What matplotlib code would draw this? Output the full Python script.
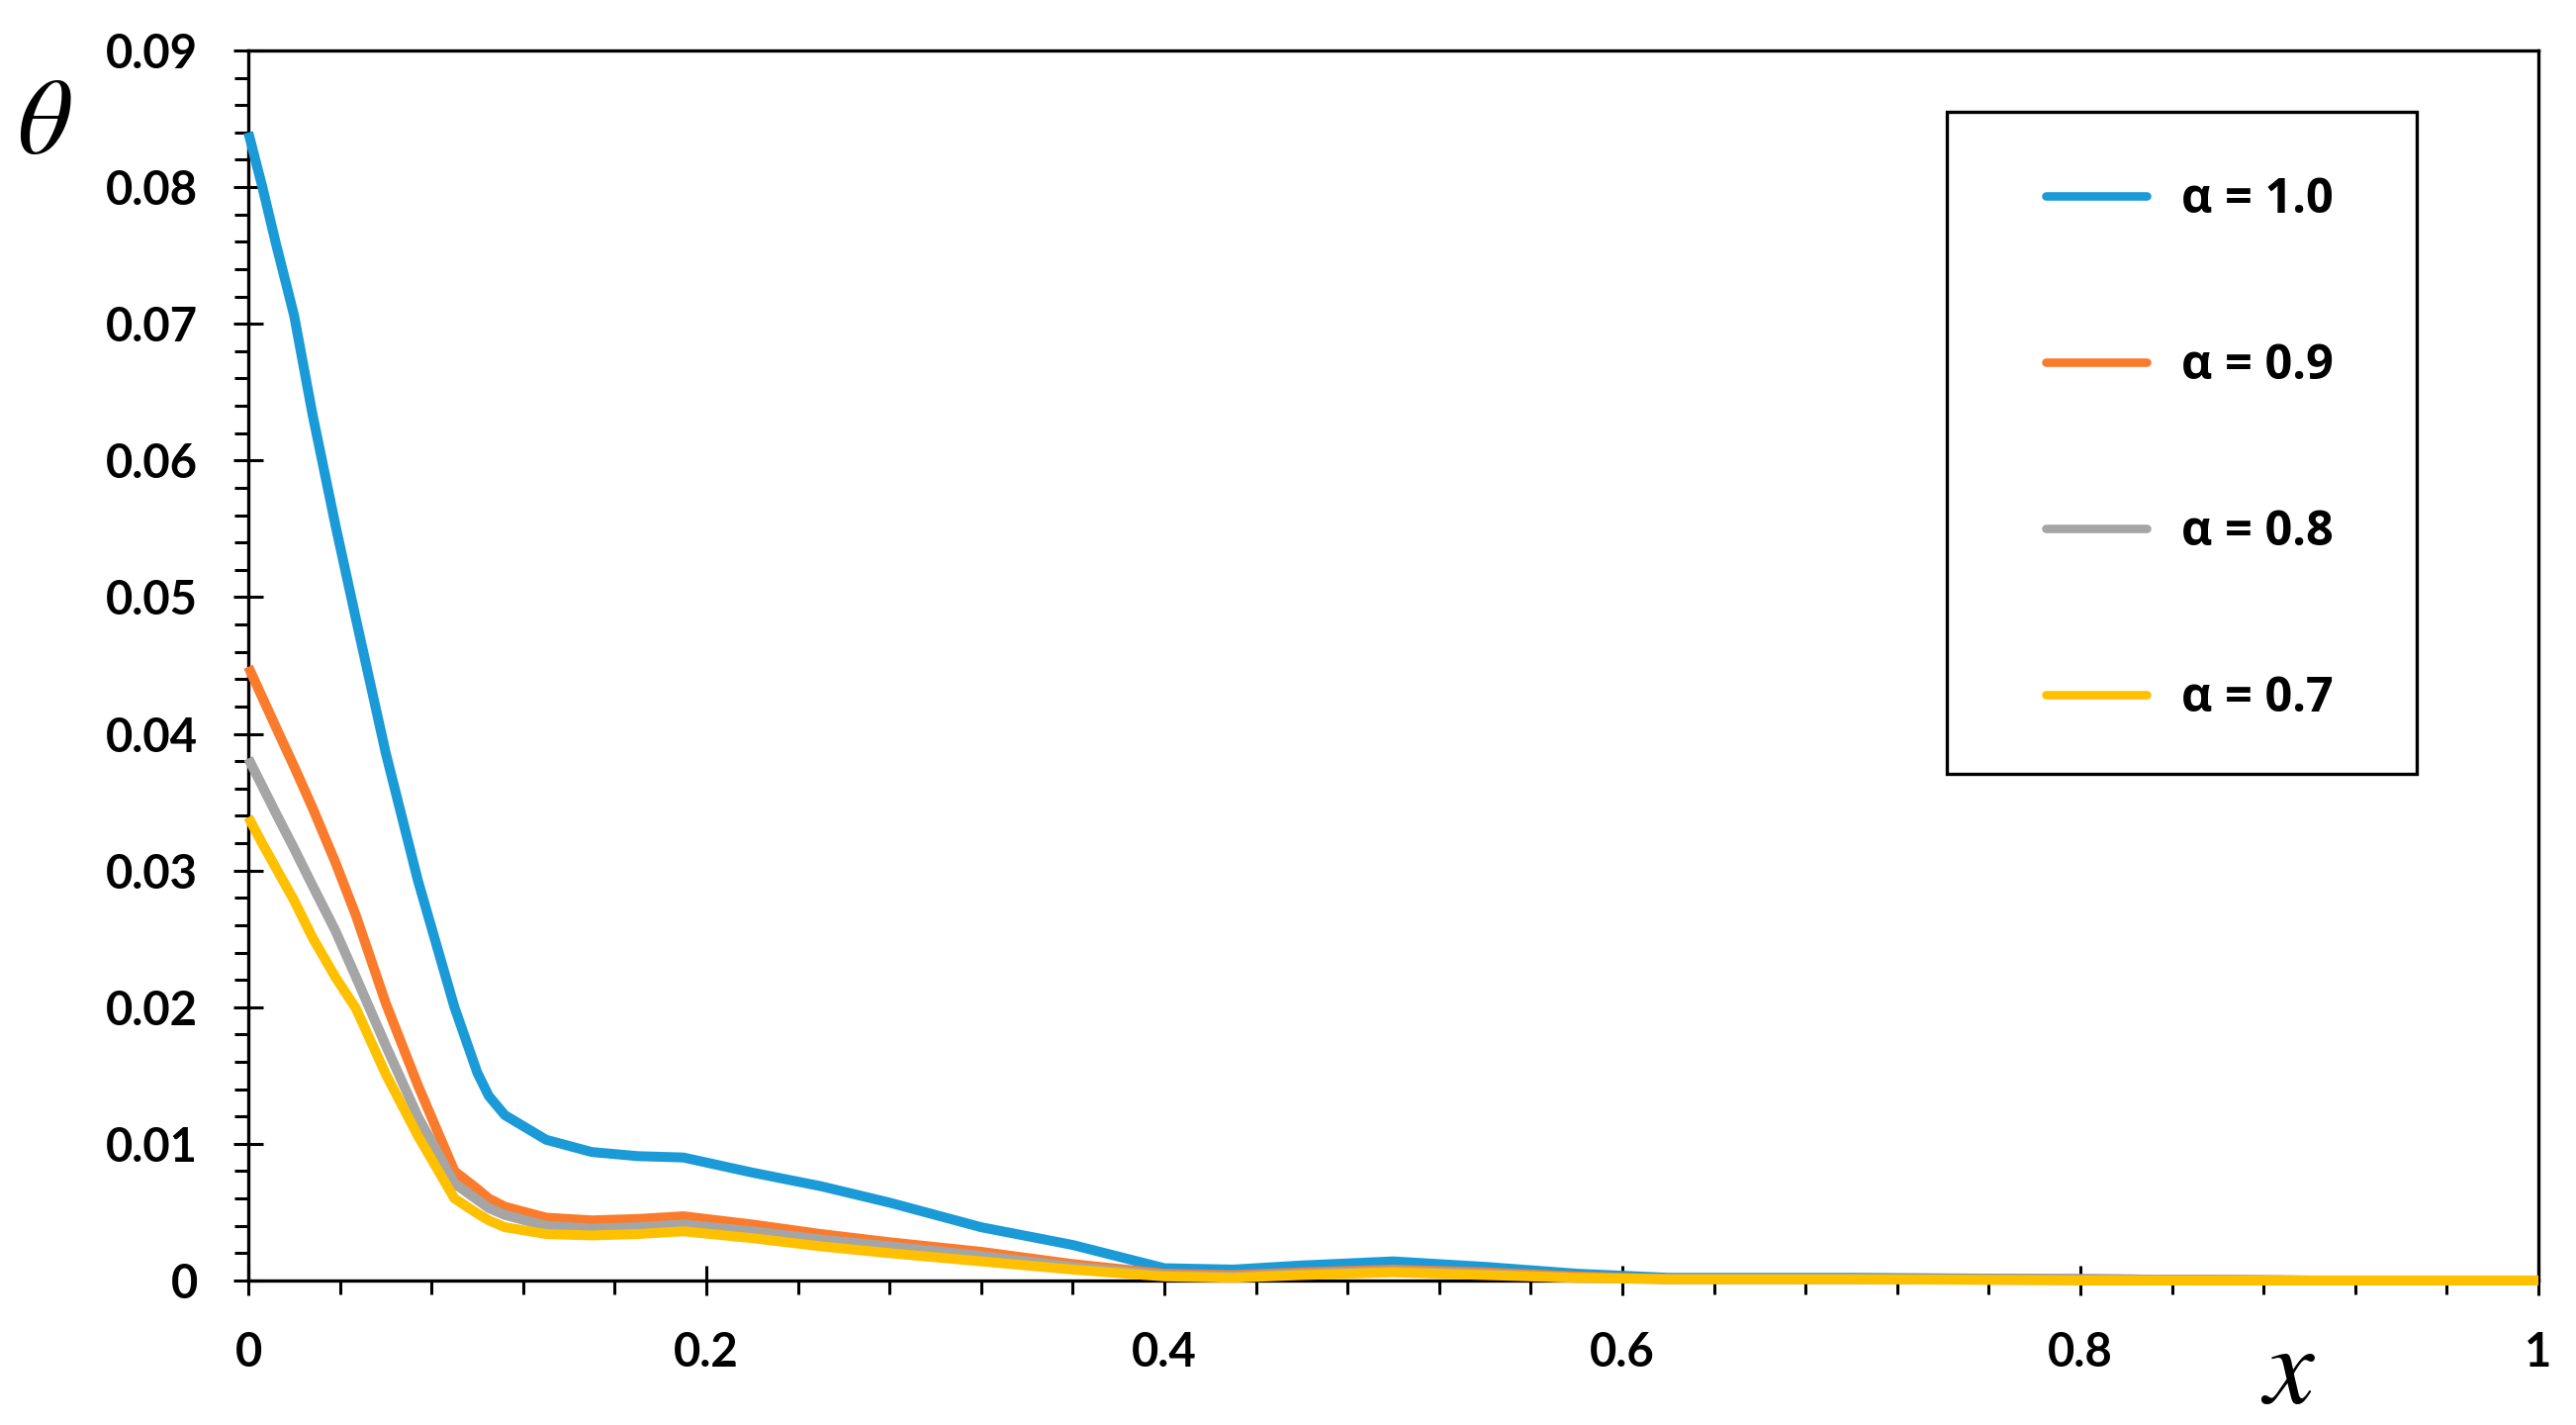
import matplotlib
matplotlib.use("Agg")
import matplotlib.pyplot as plt
from matplotlib.patches import Rectangle
from matplotlib.ticker import MultipleLocator, FixedLocator, FixedFormatter

# data
x = [0, 0.006, 0.012, 0.02, 0.028, 0.038, 0.047, 0.06, 0.074, 0.09, 0.1, 0.105, 0.112,
     0.13, 0.15, 0.17, 0.19, 0.22, 0.25, 0.28, 0.32, 0.36, 0.4, 0.43, 0.46, 0.5, 0.54,
     0.58, 0.62, 0.7, 0.8, 0.9, 1.0]

theta_10 = [0.0840, 0.0801, 0.0759, 0.0706, 0.0634, 0.0553, 0.0484, 0.0386, 0.0293, 0.0200,
            0.0152, 0.0135, 0.0121, 0.0103, 0.0094, 0.0091, 0.0090, 0.0079, 0.0069, 0.0057,
            0.0039, 0.0026, 0.0009, 0.0008, 0.0011, 0.0014, 0.0010, 0.0005, 0.0002, 0.0002,
            0.0001, 0.0, 0.0]
theta_09 = [0.0449, 0.0427, 0.0405, 0.0376, 0.0346, 0.0306, 0.0267, 0.0203, 0.0143, 0.0080,
            0.0067, 0.0060, 0.0054, 0.0046, 0.0044, 0.0045, 0.0047, 0.0041, 0.0034, 0.0028,
            0.0021, 0.0012, 0.0005, 0.0004, 0.0006, 0.0008, 0.0006, 0.0003, 0.0001, 0.0001,
            0.0001, 0.0, 0.0]
theta_08 = [0.0382, 0.0362, 0.0342, 0.0316, 0.0289, 0.0256, 0.0222, 0.0172, 0.0120, 0.0071,
            0.0059, 0.0053, 0.0048, 0.0040, 0.0038, 0.0039, 0.0041, 0.0036, 0.0030, 0.0025,
            0.0018, 0.0010, 0.0004, 0.0003, 0.0005, 0.0007, 0.0005, 0.0002, 0.0001, 0.0001,
            0.0001, 0.0, 0.0]
theta_07 = [0.0339, 0.0320, 0.0302, 0.0278, 0.0251, 0.0222, 0.0199, 0.0151, 0.0106, 0.0060,
            0.0049, 0.0044, 0.0039, 0.0034, 0.0033, 0.0034, 0.0036, 0.0031, 0.0025, 0.0020,
            0.0014, 0.0008, 0.0003, 0.0002, 0.0004, 0.0006, 0.0004, 0.0002, 0.0001, 0.0001,
            0.0, 0.0, 0.0]

series = [theta_10, theta_09, theta_08, theta_07]
labels = ["α = 1.0", "α = 0.9", "α = 0.8", "α = 0.7"]
colors = ["#1B9AD8", "#FB7B2C", "#A5A5A5", "#FFC000"]

xticks = [0, 0.2, 0.4, 0.6, 0.8, 1.0]
xticklabels = ["0", "0.2", "0.4", "0.6", "0.8", "1"]
yticks = [0, 0.01, 0.02, 0.03, 0.04, 0.05, 0.06, 0.07, 0.08, 0.09]
yticklabels = ["0", "0.01", "0.02", "0.03", "0.04", "0.05", "0.06", "0.07", "0.08", "0.09"]

plt.rcParams["mathtext.fontset"] = "stix"

fig = plt.figure(figsize=(26.04, 14.4), dpi=100)
ax = fig.add_axes([0.0964, 0.1014, 0.8890, 0.8632])

for ys, lab, c in zip(series, labels, colors):
    ax.plot(x, ys, color=c, lw=7.2, label=lab, zorder=3, clip_on=False,
            solid_capstyle="butt", solid_joinstyle="round")

ax.set_xlim(0, 1)
ax.set_ylim(0, 0.09)

ax.xaxis.set_major_locator(FixedLocator(xticks))
ax.xaxis.set_major_formatter(FixedFormatter(xticklabels))
ax.xaxis.set_minor_locator(MultipleLocator(0.04))
ax.yaxis.set_major_locator(FixedLocator(yticks))
ax.yaxis.set_major_formatter(FixedFormatter(yticklabels))
ax.yaxis.set_minor_locator(MultipleLocator(0.002))

ax.tick_params(which="major", direction="inout", length=22, width=2.2, pad=26)
ax.tick_params(which="minor", direction="out", length=10, width=2.2)
ax.tick_params(top=False, right=False, which="both")

for lbl in ax.get_xticklabels() + ax.get_yticklabels():
    lbl.set_family("Lato")
    lbl.set_fontweight("bold")
    lbl.set_fontsize(34)

for sp in ax.spines.values():
    sp.set_linewidth(2.4)

ax.set_ylabel(r"$\theta$", rotation=0, fontsize=78, ha="center", va="center")
ax.yaxis.set_label_coords(-0.089, 0.9405)
ax.set_xlabel(r"$x$", fontsize=82, ha="center", va="center")
ax.xaxis.set_label_coords(0.8907, -0.0748)

# legend: entries without frame, box drawn separately
leg = ax.legend(loc="upper left", bbox_to_anchor=(0.7942, 0.8764),
                bbox_transform=fig.transFigure, frameon=False,
                prop={"family": "Open Sans", "weight": "bold", "size": 35},
                handlelength=2.1, handletextpad=0.72, labelspacing=2.45,
                borderpad=0, borderaxespad=0)
for h in leg.get_lines():
    h.set_linewidth(6.2)
    h.set_solid_capstyle("round")

fig.patches.append(Rectangle((0.7558, 0.4569), 0.1824, 0.4646, transform=fig.transFigure,
                             fill=False, edgecolor="black", linewidth=2.4, zorder=5))

fig.savefig("out.png", dpi=100)
